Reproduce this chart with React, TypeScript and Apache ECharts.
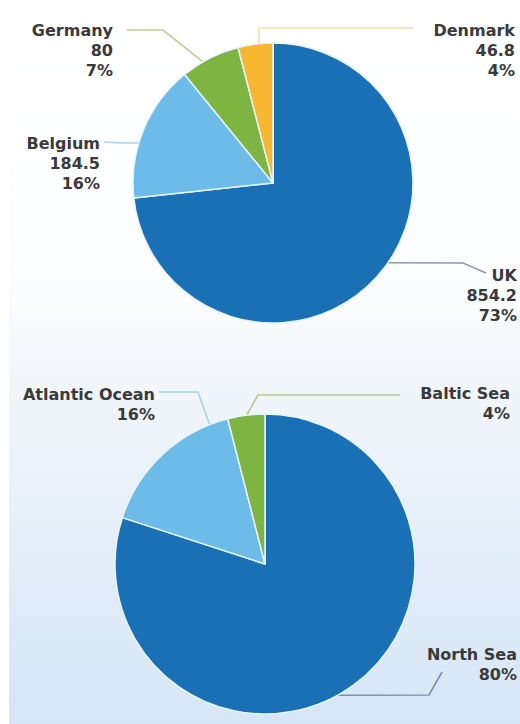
import React, { useEffect, useRef } from "react";
import * as echarts from "echarts";

// ---- data ----
const countryNames = ["UK", "Belgium", "Germany", "Denmark"];
const countryValues = [854.2, 184.5, 80, 46.8];
const seaNames = ["North Sea", "Atlantic Ocean", "Baltic Sea"];
const seaShares = [80, 16, 4];

// ---- styles ----
const countryColors = ["#1a70b4", "#6cbbe8", "#7db442", "#f8b733"];
const seaColors = ["#1a70b4", "#6cbbe8", "#7db442"];
const countryLineColors = ["#8e9aa8", "#a8d5ee", "#c3cd98", "#f4deaa"];
const seaLineColors = ["#7f8ea5", "#a8d3ec", "#b9c98c"];

// ---- layout ----
const TOP = { cx: 273, cy: 183, r: 140 };
const BOT = { cx: 265, cy: 564, r: 150 };

type Guide = { x: number; y: number; angle: number; elbow: number[]; end: number[] };
const topGuides: Guide[] = [
  { x: 517, y: 295, angle: 124.7, elbow: [463, 263], end: [486, 273] },
  { x: 100, y: 163, angle: 286.6, elbow: [122, 143], end: [104, 142] },
  { x: 113, y: 50, angle: 330, elbow: [163, 30], end: [127, 30] },
  { x: 515, y: 50, angle: 354.3, elbow: [259, 28], end: [413, 28] },
];
const botGuides: Guide[] = [
  { x: 517, y: 664, angle: 151, elbow: [429, 695], end: [442, 672] },
  { x: 155, y: 404, angle: 338.3, elbow: [198, 392], end: [159, 392] },
  { x: 510, y: 403, angle: 353, elbow: [258, 395], end: [400, 395] },
];

const edgePoint = (c: { cx: number; cy: number; r: number }, deg: number) => {
  const a = (deg * Math.PI) / 180;
  return [c.cx + c.r * Math.sin(a), c.cy - c.r * Math.cos(a)];
};

const labelFont = {
  fontFamily: "DejaVu Sans",
  fontWeight: "bold" as const,
  fontSize: 16,
  lineHeight: 20,
  color: "#3a3a3a",
};

export default function App() {
  const ref = useRef<HTMLDivElement>(null);
  useEffect(() => {
    if (!ref.current) return;
    const chart = echarts.init(ref.current, undefined, { renderer: "svg" });
    const makeLayout = (c: typeof TOP, guides: Guide[]) => (params: any) => {
      const g = guides[params.dataIndex];
      if (!g) return {};
      return {
        x: g.x,
        y: g.y,
        align: "right",
        verticalAlign: "middle",
        labelLinePoints: [edgePoint(c, g.angle), g.elbow, g.end],
      };
    };
    chart.setOption({
      animation: false,
      backgroundColor: "transparent",
      series: [
        {
          type: "pie",
          center: [TOP.cx, TOP.cy],
          radius: [0, TOP.r],
          startAngle: 90,
          clockwise: true,
          percentPrecision: 0,
          avoidLabelOverlap: false,
          silent: true,
          itemStyle: { borderColor: "#e6f5fb", borderWidth: 1.5 },
          label: {
            show: true,
            position: "outside",
            formatter: "{b}\n{c}\n{d}%",
            ...labelFont,
          },
          labelLine: { show: true, smooth: false, lineStyle: { width: 1.6 } },
          labelLayout: makeLayout(TOP, topGuides),
          emphasis: { disabled: true },
          data: countryNames.map((n, i) => ({
            name: n,
            value: countryValues[i],
            itemStyle: { color: countryColors[i] },
            labelLine: { lineStyle: { color: countryLineColors[i] } },
          })),
        },
        {
          type: "pie",
          center: [BOT.cx, BOT.cy],
          radius: [0, BOT.r],
          startAngle: 90,
          clockwise: true,
          percentPrecision: 0,
          avoidLabelOverlap: false,
          silent: true,
          itemStyle: { borderColor: "#e6f5fb", borderWidth: 1.5 },
          label: {
            show: true,
            position: "outside",
            formatter: "{b}\n{d}%",
            ...labelFont,
          },
          labelLine: { show: true, smooth: false, lineStyle: { width: 1.6 } },
          labelLayout: makeLayout(BOT, botGuides),
          emphasis: { disabled: true },
          data: seaNames.map((n, i) => ({
            name: n,
            value: seaShares[i],
            itemStyle: { color: seaColors[i] },
            labelLine: { lineStyle: { color: seaLineColors[i] } },
          })),
        },
      ],
    });
    return () => chart.dispose();
  }, []);
  return (
    <div
      style={{
        position: "absolute",
        left: 0,
        top: 0,
        width: 520,
        height: 724,
        background:
          "linear-gradient(to right, #ffffff 0px, #ffffff 9px, rgba(255,255,255,0) 9px), linear-gradient(to bottom, #ffffff 0%, #fcfdfe 38%, #eff4fa 58%, #d6e6f6 100%)",
      }}
    >
      <div ref={ref} style={{ width: 520, height: 724 }} />
    </div>
  );
}
